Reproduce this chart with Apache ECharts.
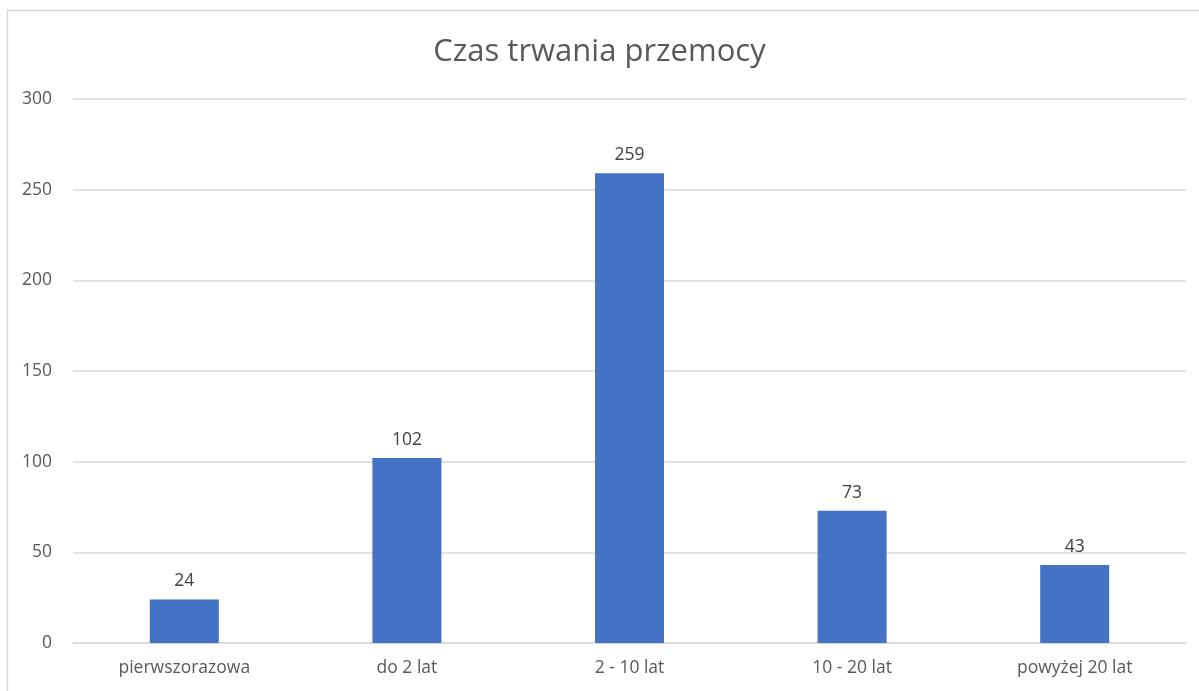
<!DOCTYPE html>
<html>
<head>
<meta charset="utf-8">
<script src="https://cdn.jsdelivr.net/npm/echarts@6/dist/echarts.min.js"></script>
<style>
    html, body { margin: 0; padding: 0; background: #fff; }
    #chart { width: 1199px; height: 691px; }
</style>
</head>
<body>
<div id="chart"></div>
<script>
const categories = ['pierwszorazowa', 'do 2 lat', '2 - 10 lat', '10 - 20 lat', 'powyżej 20 lat'];
const values = [24, 102, 259, 73, 43];
const yTicks = [0, 50, 100, 150, 200, 250, 300];

const chart = echarts.init(document.getElementById('chart'));
chart.setOption({
    animation: false,
    textStyle: { fontFamily: 'Open Sans' },
    title: {
        text: 'Czas trwania przemocy',
        left: 'center',
        top: 32,
        textStyle: {
            color: '#595959',
            fontSize: 31,
            fontWeight: 'normal',
            fontFamily: 'Open Sans'
        }
    },
    // chart frame
    graphic: [{
        type: 'rect',
        shape: { x: 7.5, y: 10.5, width: 1200, height: 700 },
        style: { fill: 'none', stroke: '#d9d9d9', lineWidth: 1.5 },
        silent: true
    }],
    grid: {
        left: 73,
        right: 13,
        top: 99,
        bottom: 48
    },
    xAxis: {
        type: 'category',
        data: categories,
        axisLine: { lineStyle: { color: '#d9d9d9', width: 1.5 } },
        axisTick: { show: false },
        axisLabel: { color: '#595959', fontSize: 17.5, margin: 16 }
    },
    yAxis: {
        type: 'value',
        min: yTicks[0],
        max: yTicks[yTicks.length - 1],
        interval: 50,
        axisLine: { show: false },
        axisTick: { show: false },
        axisLabel: { color: '#595959', fontSize: 17.5, margin: 21 },
        splitLine: { lineStyle: { color: '#d9d9d9', width: 1.5 } }
    },
    series: [{
        type: 'bar',
        data: values,
        barWidth: '31%',
        itemStyle: { color: '#4472C4' },
        label: {
            show: true,
            position: 'top',
            distance: 9,
            color: '#404040',
            fontSize: 17.5
        }
    }]
});
</script>
</body>
</html>
